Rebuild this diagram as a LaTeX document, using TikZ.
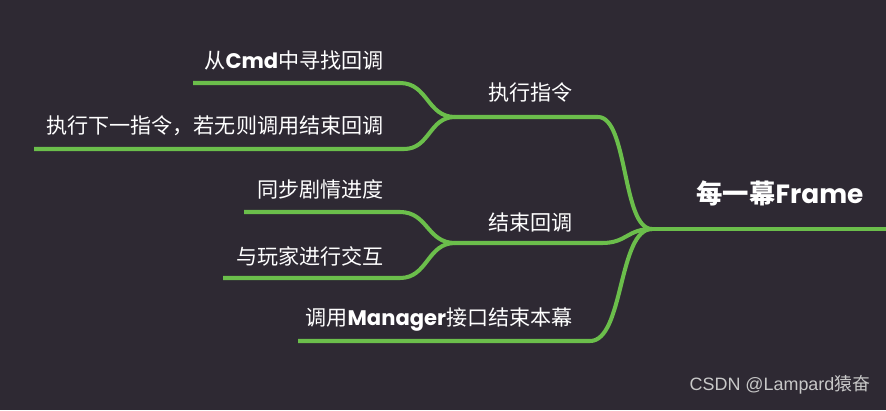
\documentclass[tikz,border=0pt]{standalone}
\usepackage{fontspec}
\setmainfont{Noto Sans CJK SC}
\newfontfamily\latinbold{Poppins}
\newfontfamily\markfont{Liberation Sans}

\definecolor{mapbg}{HTML}{2E2933}
\definecolor{mapgreen}{HTML}{6BBE4B}
\definecolor{markgray}{HTML}{C8C8C8}

\begin{document}
\begin{tikzpicture}[
  x=0.02cm,
  y=-0.02cm,
  branch/.style={draw=mapgreen, line width=2.3pt},
  leaf text/.style={anchor=east, inner sep=0pt, text=white,
    font=\fontsize{12}{14}\selectfont},
  root text/.style={inner sep=0pt, text=white,
    font=\fontsize{15}{18}\selectfont\bfseries},
  mark text/.style={inner sep=0pt, text=markgray,
    font=\fontsize{10.2}{12}\selectfont}
]
  \path[use as bounding box, fill=mapbg] (0,0) rectangle (886,410);

  % Root topic and its line.
  \coordinate (hub) at (652,229);
  \coordinate (root end) at (886,229);
  \node[root text] (frame) at (780,193)
    {每一幕{\latinbold\bfseries Frame}};
  \draw[branch] (hub) -- (root end);

  % Branch: execute command.
  \coordinate (exec hub) at (455,117);
  \coordinate (exec bend) at (598,117);
  \node[leaf text] (exec) at (573,92) {执行指令};
  \draw[branch] (exec hub) -- (exec bend)
    .. controls +(30,0) and +(-30,0) .. (hub);

  \coordinate (cmd start) at (193,83);
  \coordinate (cmd bend) at (400,83);
  \node[leaf text] (cmd) at (384,60)
    {从{\latinbold\bfseries Cmd}中寻找回调};
  \draw[branch] (cmd start) -- (cmd bend)
    .. controls +(28,0) and +(-28,0) .. (exec hub);

  \coordinate (next start) at (34,149);
  \coordinate (next bend) at (404,149);
  \node[leaf text] (next) at (384,126)
    {执行下一指令，若无则调用结束回调};
  \draw[branch] (next start) -- (next bend)
    .. controls +(26,0) and +(-26,0) .. (exec hub);

  % Branch: end callback.
  \coordinate (endcb hub) at (455,243);
  \coordinate (endcb bend) at (602,243);
  \node[leaf text] (endcb) at (573,222) {结束回调};
  \draw[branch] (endcb hub) -- (endcb bend)
    .. controls +(25,0) and +(-25,0) .. (hub);

  \coordinate (sync start) at (244,212);
  \coordinate (sync bend) at (400,212);
  \node[leaf text] (sync) at (384,189) {同步剧情进度};
  \draw[branch] (sync start) -- (sync bend)
    .. controls +(28,0) and +(-28,0) .. (endcb hub);

  \coordinate (play start) at (223,278);
  \coordinate (play bend) at (400,278);
  \node[leaf text] (play) at (384,256) {与玩家进行交互};
  \draw[branch] (play start) -- (play bend)
    .. controls +(28,0) and +(-28,0) .. (endcb hub);

  % Branch: close the act through the manager.
  \coordinate (mgr start) at (298,341);
  \coordinate (mgr bend) at (590,341);
  \node[leaf text] (mgr) at (573,320)
    {调用{\latinbold\bfseries Manager}接口结束本幕};
  \draw[branch] (mgr start) -- (mgr bend)
    .. controls +(34,0) and +(-34,0) .. (hub);

  \node[mark text] (mark) at (780,385)
    {{\markfont CSDN @Lampard}猿奋};
\end{tikzpicture}
\end{document}
